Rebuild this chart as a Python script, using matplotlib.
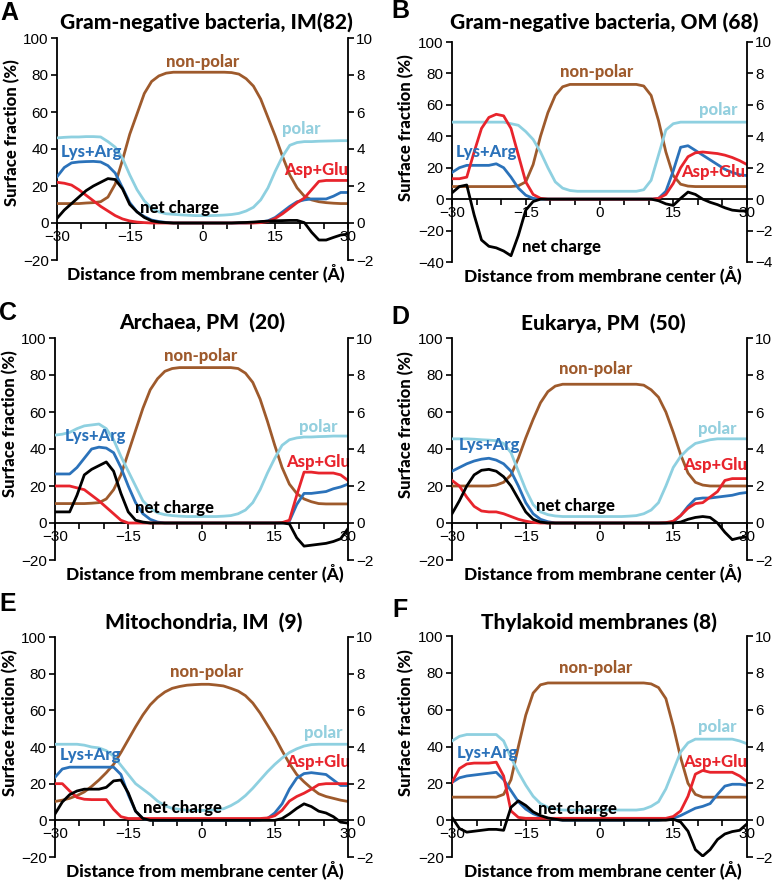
import numpy as np
import matplotlib
matplotlib.use('Agg')
import matplotlib.pyplot as plt
from matplotlib.ticker import MultipleLocator

plt.rcParams['font.family'] = ['Liberation Sans', 'DejaVu Sans']

# distance from membrane center (A), 1.5 A steps
x = np.linspace(-30, 30, 41)

# A: Gram-negative bacteria, IM
a_nonpolar = [10.5, 10.5, 10.5, 10.5, 10.8, 11, 11.5, 14, 21, 34, 48, 59, 70, 76.5, 79.5, 81, 81.5, 81.5, 81.5, 81.5, 81.5,
              81.5, 81.5, 81.5, 81.3, 80.5, 78, 74, 67, 57, 47, 36, 26, 19, 14.5, 12.5, 11.5, 11, 10.7, 10.5, 10.5]
a_polar = [46, 46.3, 46.5, 46.5, 46.7, 46.7, 46.5, 44, 41, 35, 26, 18, 12, 8, 6, 5, 4.7, 4.4, 4.2, 4, 4,
           4, 4.1, 4.3, 4.6, 5.2, 6.5, 8.5, 12.5, 19, 28, 36, 42, 43.5, 44, 44, 44.2, 44.3, 44.4, 44.5, 44.5]
a_lysarg = [25, 30, 32.5, 33, 33.2, 33.3, 33, 31, 27, 19, 11, 6, 3.5, 1.6, 0.8, 0.3, 0, 0, 0, 0, 0,
            0, 0, 0, 0, 0, 0, 0.2, 0.5, 1.2, 3, 6, 9, 11.5, 12.5, 13, 13, 13, 14.5, 16.5, 16.5]
a_aspglu = [22, 21.5, 20.5, 18, 15, 12, 9, 6.5, 4, 2.2, 1.1, 0.5, 0.2, 0, 0, 0, 0, 0, 0, 0, 0,
            0, 0, 0, 0, 0, 0, 0, 0.2, 0.8, 2.5, 5, 8, 11, 13.5, 18, 22.5, 23, 23, 23, 23]
a_charge = [0.25, 0.7, 1.05, 1.4, 1.75, 2.0, 2.2, 2.4, 2.35, 1.85, 1.0, 0.6, 0.3, 0.12, 0.05, 0.02, 0, 0, 0, 0, 0,
            0, 0, 0, 0, 0.02, 0.03, 0.05, 0.08, 0.1, 0.12, 0.13, 0.14, 0.14, 0.02, -0.5, -0.92, -0.92, -0.78, -0.65, -0.6]

# B: Gram-negative bacteria, OM
b_nonpolar = [8, 8, 8, 8, 8, 8, 8, 8, 8, 8.5, 11, 22, 40, 55, 66, 71.5, 73, 73, 73, 73, 73,
              73, 73, 73, 73, 73, 72, 66, 50, 30, 15, 9.5, 8.3, 8, 8, 8, 8, 8, 8, 8, 8]
b_polar = [49, 49, 49, 49, 49, 49, 49, 49, 48, 47, 43, 38, 30, 20, 11, 7, 5.5, 5, 5, 5, 5,
           5, 5, 5, 5, 5, 6, 12, 28, 44, 48, 49, 49, 49, 49, 49, 49, 49, 49, 49, 49]
b_lysarg = [17, 20, 21.5, 21.5, 21.5, 21.5, 22.5, 20, 14, 7, 2.5, 0.5, 0, 0, 0, 0, 0, 0, 0, 0, 0,
            0, 0, 0, 0, 0, 0, 0, 0.5, 5, 18, 33, 34, 31, 28, 25, 22, 19, 17, 15.5, 15]
b_aspglu = [13, 13, 14, 30, 45, 52, 54, 53, 45, 28, 11, 3, 0.5, 0, 0, 0, 0, 0, 0, 0, 0,
            0, 0, 0, 0, 0, 0, 0, 0.5, 3, 10, 20, 27, 29.5, 30, 29.5, 29, 28, 26.5, 24.5, 22]
b_charge = [0.4, 0.8, 0.9, -1.0, -2.6, -3.0, -3.1, -3.3, -3.6, -2.3, -0.7, -0.15, 0, 0, 0, 0, 0, 0, 0, 0, 0,
            0, 0, 0, 0, 0, 0, 0, -0.1, -0.3, -0.4, 0.05, 0.45, 0.3, 0, -0.2, -0.35, -0.55, -0.7, -0.75, -0.75]

# C: Archaea, PM
c_nonpolar = [10.5, 10.5, 10.5, 10.5, 10.5, 10.7, 11, 13, 18, 26, 38, 50, 62, 72, 78, 82, 83.5, 84, 84, 84, 84,
              84, 84, 84, 84, 83.5, 81, 76, 67, 55, 42, 30, 21, 16, 13, 11.5, 10.5, 10.3, 10.3, 10.3, 10.3]
c_polar = [47.5, 48, 49, 51, 52.5, 53, 53.5, 51, 45, 36, 28, 20, 12, 8, 5.5, 4.5, 4, 3.7, 3.5, 3.5, 3.5,
           3.5, 3.5, 3.7, 4, 5, 7, 11, 18, 27, 35, 42, 45, 46, 46.5, 46.5, 46.7, 46.8, 47, 47, 47]
c_lysarg = [26.5, 26.5, 26.5, 30, 35, 40, 41, 40.5, 38, 30, 20, 11, 5, 2, 0.5, 0, 0, 0, 0, 0, 0,
            0, 0, 0, 0, 0, 0, 0, 0, 0, 0, 0, 1, 10, 16, 16, 16.5, 17, 18.5, 19.5, 21]
c_aspglu = [20, 20, 20, 19, 18, 15, 12, 8.5, 5, 1.5, 0, 0, 0, 0, 0, 0, 0, 0, 0, 0, 0,
            0, 0, 0, 0, 0, 0, 0, 0, 0, 0, 0.2, 1.5, 15, 27.5, 27.5, 27, 27, 27, 26, 23]
c_charge = [0.6, 0.6, 0.6, 1.5, 2.6, 2.9, 3.1, 3.3, 2.8, 1.6, 0.6, 0.15, 0.05, 0, 0, 0, 0, 0, 0, 0, 0,
            0, 0, 0, 0, 0, 0, 0, 0, 0, 0, 0, -0.05, -0.8, -1.25, -1.2, -1.15, -1.1, -1.0, -0.85, -0.3]

# D: Eukarya, PM
d_nonpolar = [20, 20, 20, 20, 20, 20, 20.5, 22, 26, 35, 46, 56, 65, 71, 74, 75, 75, 75, 75, 75, 75,
              75, 75, 75, 75, 75, 74.5, 72, 68, 60, 49, 37, 27, 22, 20.5, 20, 20, 20, 20, 20, 20]
d_polar = [45.5, 45.5, 45.5, 45.3, 45, 44.8, 44.5, 43, 38, 28, 18, 10, 6, 4.5, 3.8, 3.5, 3.5, 3.5, 3.5, 3.5, 3.5,
           3.5, 3.5, 3.5, 3.7, 4, 5, 7, 11, 20, 30, 36, 40, 43, 44, 45, 45.5, 45.5, 45.5, 45.5, 45.5]
d_lysarg = [28, 30, 32, 33.5, 34.5, 35, 34, 32, 28, 20, 11, 5, 2, 0.7, 0, 0, 0, 0, 0, 0, 0,
            0, 0, 0, 0, 0, 0, 0, 0, 0, 0.5, 4, 9, 13, 13.5, 13.5, 14, 14.5, 15, 16, 16.5]
d_aspglu = [23, 20, 14, 9, 6.5, 6, 6, 5, 3.5, 2, 1, 0.3, 0, 0, 0, 0, 0, 0, 0, 0, 0,
            0, 0, 0, 0, 0, 0, 0, 0, 0.2, 1, 4, 8, 10.5, 11, 14, 17, 23, 24, 24, 24]
d_charge = [0.5, 1.2, 2.0, 2.6, 2.85, 2.9, 2.8, 2.5, 2.0, 1.3, 0.6, 0.2, 0.05, 0, 0, 0, 0, 0, 0, 0, 0,
            0, 0, 0, 0, 0, 0, 0, 0, 0, 0, 0.05, 0.2, 0.3, 0.35, 0.3, 0, -0.5, -0.9, -0.8, -0.75]

# E: Mitochondria, IM
e_nonpolar = [10.3, 11, 12, 13.5, 15.5, 18.5, 22, 26, 30.5, 37, 44, 51, 57.5, 63, 67, 70, 72, 73, 73.7, 74, 74.2,
              74.2, 73.8, 73.3, 72, 70.5, 68, 64, 58.5, 52, 45.5, 38, 31, 25, 21, 17.5, 14.5, 13, 12, 11, 10.3]
e_polar = [41.5, 41.5, 41.5, 41.5, 41, 40, 39.5, 38, 35, 30, 25, 20, 17, 14, 10.5, 8, 6.5, 6, 5.5, 5.5, 5.4,
           5.5, 5.8, 6.3, 8, 10.3, 13.5, 17.5, 22, 26.5, 30.5, 34, 37, 39, 40.5, 41.3, 41.5, 41.5, 41.5, 41.5, 41.5]
e_lysarg = [23.5, 28, 29, 29, 29, 29, 29, 29, 29, 25, 14, 5, 1, 0.2, 0, 0, 0, 0, 0, 0, 0,
            0, 0, 0, 0, 0, 0, 0, 0.2, 1, 4, 9, 17, 23, 25.5, 26, 25.5, 25, 22, 19, 19]
e_aspglu = [20, 20, 16, 12.5, 11.5, 11.3, 11.3, 11.3, 6, 2, 1, 1, 1, 1, 1, 1, 1, 1, 1, 1, 1,
            1, 1, 1, 1, 1, 1, 1, 1, 1.3, 2.5, 5.5, 10.5, 13, 14.8, 17, 19.5, 20, 20, 20, 20]
e_charge = [0.35, 1.0, 1.4, 1.6, 1.7, 1.7, 1.7, 1.8, 2.15, 2.2, 1.5, 0.5, 0.1, 0, 0, 0, 0, 0, 0, 0, 0,
            0, 0, 0, 0, 0, 0, 0, 0, 0, 0, 0.1, 0.35, 0.65, 0.9, 0.75, 0.5, 0.4, 0.2, -0.1, -0.15]

# F: Thylakoid membranes
f_nonpolar = [12.5, 12.5, 12.5, 12.5, 12.5, 12.5, 12.5, 14, 22, 40, 57, 69, 73.5, 74.5, 74.5, 74.5, 74.5, 74.5, 74.5, 74.5, 74.5,
              74.5, 74.5, 74.5, 74.5, 74.5, 74.5, 74, 72, 66, 51, 34, 20, 14, 12.5, 12.5, 12.5, 12.5, 12.5, 12.5, 12.5]
f_polar = [43, 45.5, 46.5, 46.5, 46.5, 46.5, 46.5, 43, 34, 26, 19, 13, 9, 7, 6, 5.5, 5.5, 5.5, 5.5, 5.5, 5.5,
           5.5, 5.5, 5.5, 5.5, 5.5, 6, 7.5, 10, 17, 27, 37, 42, 44, 44, 44, 44, 44, 44, 43, 41.5]
f_lysarg = [20.5, 23, 24, 24.5, 25, 25.5, 26, 22, 16, 10, 6, 3.5, 2, 1, 0.5, 0, 0, 0, 0, 0, 0,
            0, 0, 0, 0, 0, 0, 0, 0, 0.5, 1, 2.5, 4.5, 6.5, 7.5, 9, 14, 18.5, 19.5, 19.5, 19]
f_aspglu = [20.5, 28, 30.5, 31, 31, 31, 31.5, 24, 5, 1.5, 1, 1, 1, 1, 1, 1, 1, 1, 1, 1, 1,
            1, 1, 1, 1, 1, 1, 1, 1, 1, 2, 5, 13, 25, 27, 26, 26, 26, 26, 24, 21]
f_charge = [0.15, -0.45, -0.65, -0.6, -0.55, -0.5, -0.5, -0.55, 0.7, 1.05, 0.8, 0.45, 0.25, 0.12, 0.05, 0, 0, 0, 0, 0, 0,
            0, 0, 0, 0, 0, 0, 0, 0, 0, 0.05, -0.1, -0.6, -1.6, -1.95, -1.6, -1.05, -0.75, -0.62, -0.55, -0.2]

titles = ['Gram-negative bacteria, IM(82)', 'Gram-negative bacteria, OM (68)', 'Archaea, PM  (20)',
          'Eukarya, PM  (50)', 'Mitochondria, IM  (9)', 'Thylakoid membranes (8)']
letters = ['A', 'B', 'C', 'D', 'E', 'F']
series_names = ['non-polar', 'polar', 'Lys+Arg', 'Asp+Glu', 'net charge']

panels = [
    (a_nonpolar, a_polar, a_lysarg, a_aspglu, a_charge),
    (b_nonpolar, b_polar, b_lysarg, b_aspglu, b_charge),
    (c_nonpolar, c_polar, c_lysarg, c_aspglu, c_charge),
    (d_nonpolar, d_polar, d_lysarg, d_aspglu, d_charge),
    (e_nonpolar, e_polar, e_lysarg, e_aspglu, e_charge),
    (f_nonpolar, f_polar, f_lysarg, f_aspglu, f_charge),
]

colors = ['#9e5a2c', '#8ed0e0', '#2b72ba', '#e8242c', 'black']
text_colors = ['#9e5a2c', '#93cfde', '#2b72ba', '#e8242c', 'black']
bold = dict(family=['Lato', 'DejaVu Sans'], fontweight='black')

W, H = 778, 880
# axes boxes in pixels: left, top, right, bottom
boxes = [(57, 38, 348, 260), (452, 42, 747, 262), (55, 338, 348, 560),
         (452, 338, 747, 560), (55, 637, 348, 857), (452, 636, 747, 857)]
title_xy = [(206, 22), (604, 22), (202, 322), (603, 323), (204, 622), (599, 622)]
letter_xy = [(9, 13), (400, 11), (8, 313), (400, 317), (8, 604), (400, 610)]
ymins = [-20, -40, -20, -20, -20, -20]
ylab_y = [0.575, 0.61, 0.615, 0.61, 0.61, 0.61]
# label positions for non-polar, polar, Lys+Arg, Asp+Glu, net charge
label_xy = [
    [(0, 87), (20.3, 51), (-22.8, 38.5), (23.5, 28.6), (-4.8, 7.9)],
    [(-0.5, 81), (24.2, 57), (-22.9, 30), (23.2, 17.4), (-7.8, -30.3)],
    [(-0.2, 90), (24, 52), (-21.7, 46.8), (23.9, 33), (-5.5, 8)],
    [(-0.8, 83), (24, 51), (-22.4, 42), (23.6, 31.4), (-4.8, 9.2)],
    [(1, 81), (25, 47.6), (-22.7, 35.5), (23.9, 31.8), (-3.9, 6.9)],
    [(-0.8, 82.4), (24, 50.7), (-22.7, 36.2), (23.6, 31.7), (-4.4, 6.3)],
]

fig = plt.figure(figsize=(W / 100, H / 100), dpi=100)

for i in range(6):
    l, t, r, b = boxes[i]
    ax = fig.add_axes([l / W, 1 - b / H, (r - l) / W, (b - t) / H])
    ax2 = ax.twinx()
    vals = panels[i]
    for j in range(4):
        ax.plot(x, vals[j], color=colors[j], lw=2, zorder=3, solid_joinstyle='round')
    ax2.plot(x, vals[4], color=colors[4], lw=2, zorder=3, solid_joinstyle='round')

    ymin = ymins[i]
    ax.set_xlim(-30, 30)
    ax.set_ylim(ymin, 100)
    ax2.set_ylim(ymin / 10, 10)
    ax.yaxis.set_major_locator(MultipleLocator(20))
    ax2.yaxis.set_major_locator(MultipleLocator(2))
    ax.xaxis.set_major_locator(MultipleLocator(15))
    ax.xaxis.set_minor_locator(MultipleLocator(5))

    for s in ['top', 'right']:
        ax.spines[s].set_visible(False)
    for s in ['top', 'left', 'bottom']:
        ax2.spines[s].set_visible(False)
    ax.spines['bottom'].set_position(('data', 0))
    for sp in [ax.spines['left'], ax.spines['bottom'], ax2.spines['right']]:
        sp.set_linewidth(1.3)

    ax.tick_params(axis='y', direction='out', length=4, width=1.2, labelsize=11, pad=2)
    ax2.tick_params(axis='y', direction='out', length=4, width=1.2, labelsize=11, pad=2)
    ax.tick_params(axis='x', which='both', direction='out', length=4, width=1.2, labelsize=11, pad=1)
    ax.patch.set_visible(False)

    for j in range(5):
        lx, ly = label_xy[i][j]
        ax.text(lx, ly, series_names[j], color=text_colors[j], fontsize=12,
                ha='center', va='center', zorder=5, **bold)

    ax.text(-0.155, ylab_y[i], 'Surface fraction (%)', rotation=90, transform=ax.transAxes,
            ha='center', va='center', fontsize=12, **bold)
    ax.text(0.51, -0.06, 'Distance from membrane center (\u00c5)', transform=ax.transAxes,
            ha='center', va='center', fontsize=12.5, **bold)

    tx, ty = title_xy[i]
    fig.text(tx / W, 1 - ty / H, titles[i], ha='center', va='center', fontsize=15, **bold)
    lx, ly = letter_xy[i]
    fig.text(lx / W, 1 - ly / H, letters[i], ha='center', va='center', fontsize=18,
             fontweight='bold')

fig.savefig('out.png', dpi=100)
